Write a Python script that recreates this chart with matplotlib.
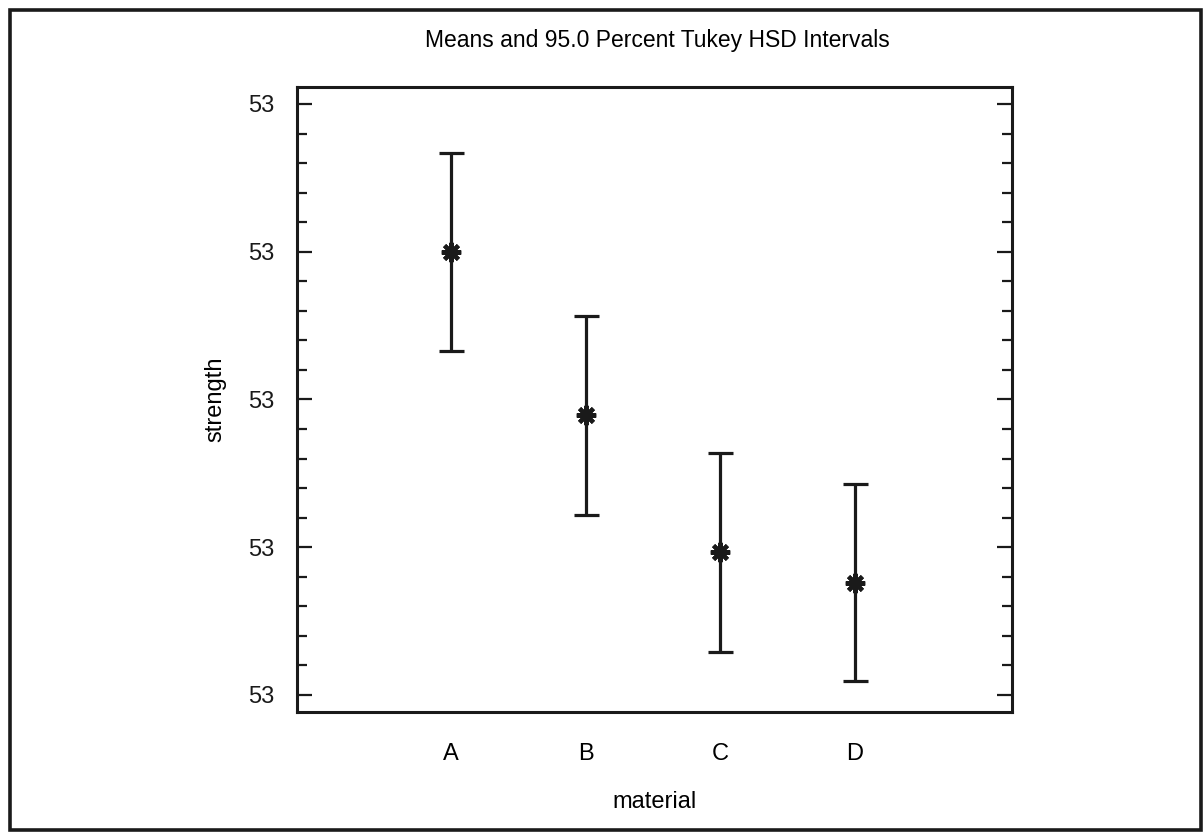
import numpy as np
from matplotlib import pyplot as plt
from matplotlib.patches import Rectangle
from matplotlib.ticker import MultipleLocator, FormatStrFormatter

# Data
materials = ['A', 'B', 'C', 'D']
means = np.array([53.200, 52.979, 52.794, 52.752])
lower = np.array([53.066, 52.844, 52.658, 52.619])
upper = np.array([53.334, 53.113, 52.928, 52.886])
y_ticks = [52.6, 52.8, 53.0, 53.2, 53.4]

plt.rcParams['font.family'] = ['Liberation Sans', 'DejaVu Sans']

fig = plt.figure(figsize=(12.04, 8.33), dpi=100)
ax = fig.add_axes([0.2467, 0.1453, 0.5939, 0.7503])

x = np.arange(1, len(materials) + 1)
ax.errorbar(x, means, yerr=[means - lower, upper - means], fmt='none',
            ecolor='#1a1a1a', elinewidth=2.3, capsize=9, capthick=2.3)
ax.plot(x, means, linestyle='none', marker=(8, 2, 0), markersize=14,
        markeredgewidth=3, color='#1a1a1a')

ax.set_xlim(-0.144, 5.166)
ax.set_ylim(52.577, 53.423)
ax.set_xticks(x)
ax.set_xticklabels(materials)
ax.set_yticks(y_ticks)
ax.yaxis.set_major_formatter(FormatStrFormatter('%.0f'))
ax.yaxis.set_minor_locator(MultipleLocator(0.04))

ax.tick_params(axis='y', which='major', direction='in', length=11, width=1.6,
               left=True, right=True, labelsize=17, pad=16, colors='#1a1a1a')
ax.tick_params(axis='y', which='minor', direction='in', length=7, width=1.6,
               left=True, right=True, colors='#1a1a1a')
ax.tick_params(axis='x', which='both', length=0, labelsize=17, pad=22)

for sp in ax.spines.values():
    sp.set_linewidth(2.2)
    sp.set_color('#1a1a1a')

ax.set_ylabel('strength', fontsize=17, labelpad=16)
ax.set_xlabel('material', fontsize=17, labelpad=19)
fig.text(0.5457, 0.951, 'Means and 95.0 Percent Tukey HSD Intervals',
         ha='center', va='center', fontsize=16.5)

# outer frame
fig.patches.append(Rectangle((10 / 1204, 3 / 833), 1191 / 1204, 820 / 833,
                             transform=fig.transFigure, fill=False,
                             linewidth=2.6, edgecolor='#1a1a1a'))

fig.savefig('out.png', dpi=100)
